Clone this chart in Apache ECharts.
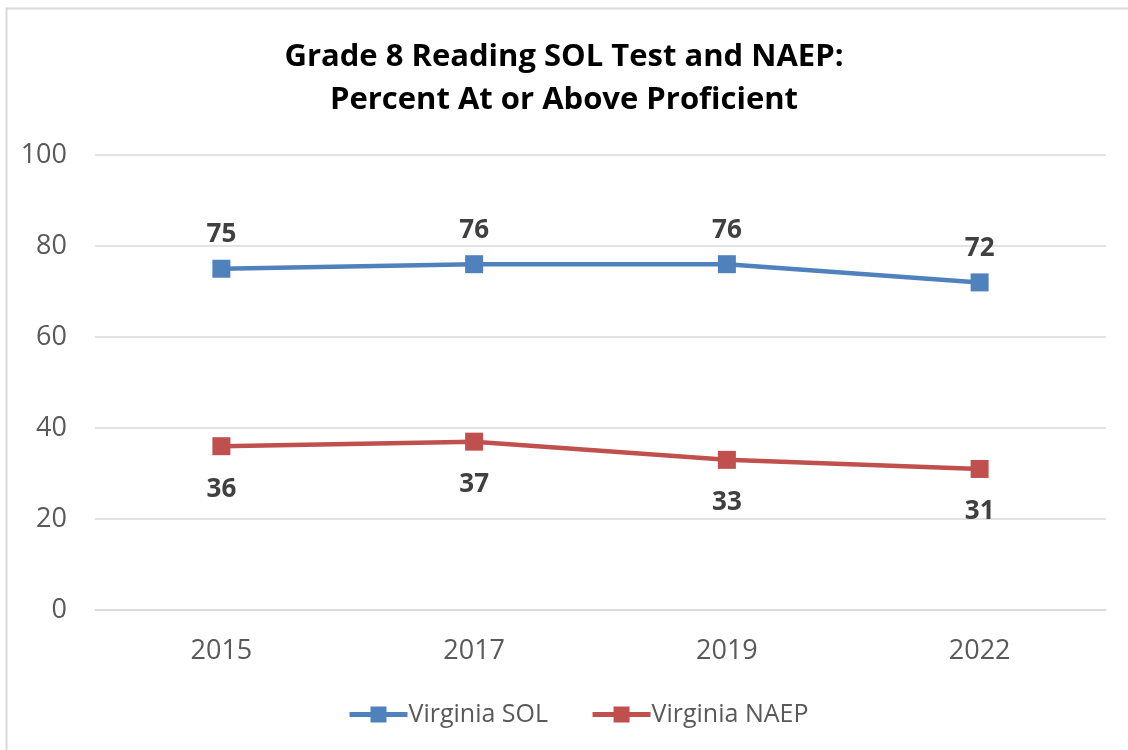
<!DOCTYPE html>
<html>
<head>
<meta charset="utf-8">
<script src="https://cdn.jsdelivr.net/npm/echarts@6/dist/echarts.min.js"></script>
<style>
html,body{margin:0;padding:0;background:#fff;}
#c{width:1128px;height:750px;}
</style>
</head>
<body>
<div id="c"></div>
<script>
const categories = ['2015', '2017', '2019', '2022'];
const solValues = [75, 76, 76, 72];
const naepValues = [36, 37, 33, 31];
const yTicks = [0, 20, 40, 60, 80, 100];
const titleLines = ['Grade 8 Reading SOL Test and NAEP:', 'Percent At or Above Proficient'];

const FONT = '"Open Sans", sans-serif';
const chart = echarts.init(document.getElementById('c'));
chart.setOption({
  backgroundColor: '#fff',
  animation: false,
  graphic: [{
    type: 'rect', left: 4, top: 6, silent: true,
    shape: { width: 1300, height: 900 },
    style: { fill: 'none', stroke: '#d9d9d9', lineWidth: 2 }
  }],
  title: {
    text: titleLines.join('\n'),
    left: 'center', top: 31,
    textStyle: { fontFamily: FONT, fontWeight: 'bold', fontSize: 31, color: '#000', lineHeight: 43 }
  },
  grid: { left: 95, right: 22, top: 155, bottom: 140 },
  xAxis: {
    type: 'category', data: categories, boundaryGap: true,
    axisLine: { show: true, lineStyle: { color: '#d9d9d9', width: 1.5 } },
    axisTick: { show: false },
    axisLabel: { fontFamily: FONT, fontSize: 27, color: '#595959', margin: 28 }
  },
  yAxis: {
    type: 'value', min: yTicks[0], max: yTicks[yTicks.length - 1], interval: 20,
    axisLine: { show: false }, axisTick: { show: false },
    splitLine: { lineStyle: { color: '#d9d9d9', width: 1.5 } },
    axisLabel: { fontFamily: FONT, fontSize: 27, color: '#595959', margin: 28 }
  },
  legend: {
    bottom: 18, left: 342, itemWidth: 58, itemHeight: 20, itemGap: 42,
    lineStyle: { width: 5 },
    textStyle: { fontFamily: FONT, fontSize: 25, color: '#595959', padding: [0, 0, 0, -4] },
    data: ['Virginia SOL', 'Virginia NAEP']
  },
  series: [
    {
      name: 'Virginia SOL', type: 'line', data: solValues,
      symbol: 'rect', symbolSize: 18,
      lineStyle: { color: '#4F81BD', width: 4.5 },
      itemStyle: { color: '#4F81BD' },
      label: { show: true, position: 'top', distance: 12, fontFamily: FONT, fontWeight: 'bold', fontSize: 26, color: '#404040' }
    },
    {
      name: 'Virginia NAEP', type: 'line', data: naepValues,
      symbol: 'rect', symbolSize: 18,
      lineStyle: { color: '#C0504D', width: 4.5 },
      itemStyle: { color: '#C0504D' },
      label: { show: true, position: 'bottom', distance: 21, fontFamily: FONT, fontWeight: 'bold', fontSize: 26, color: '#404040' }
    }
  ]
});
</script>
</body>
</html>
